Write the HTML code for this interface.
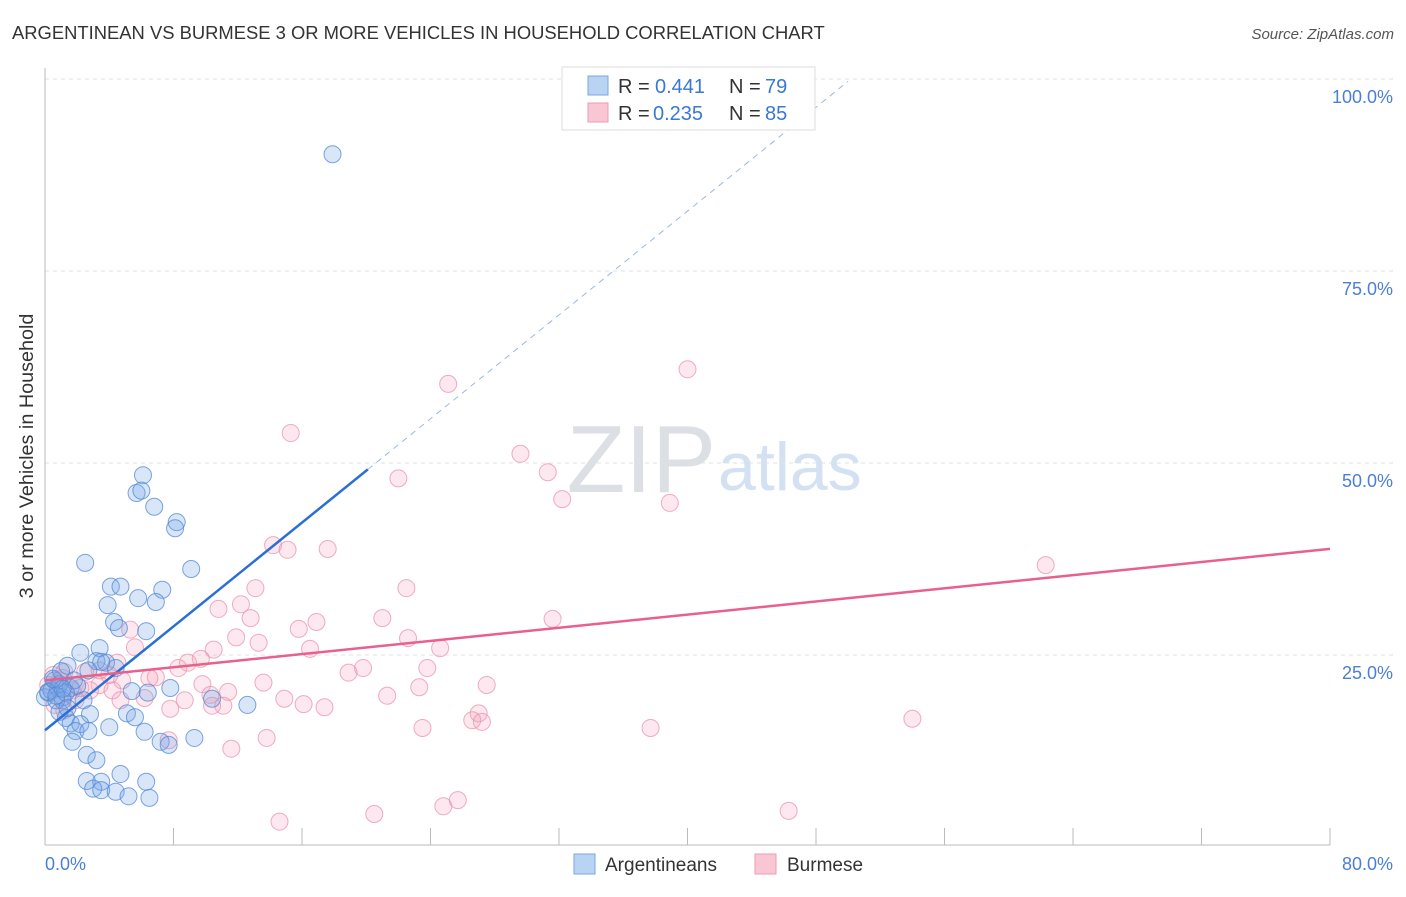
<!DOCTYPE html>
<html><head><meta charset="utf-8"><style>
body{margin:0;background:#fff;font-family:"Liberation Sans",sans-serif;}
svg text{font-family:"Liberation Sans",sans-serif;}
</style></head><body>
<svg id="chart" width="1406" height="892" xmlns="http://www.w3.org/2000/svg">
<text x="12" y="39" font-size="18.4" fill="#333">ARGENTINEAN VS BURMESE 3 OR MORE VEHICLES IN HOUSEHOLD CORRELATION CHART</text>
<text x="1394" y="39" font-size="15" fill="#555" text-anchor="end" font-style="italic">Source: ZipAtlas.com</text>
<text x="716" y="492" font-size="96" fill="#dcdfe4" text-anchor="end" font-family="Liberation Serif">ZIP</text>
<text x="718" y="490" font-size="68" fill="#d3e1f3">atlas</text>
<g id="grid"></g>
<line x1="45" y1="68" x2="45" y2="845" stroke="#bbb"/>
<line x1="45" y1="845" x2="1330" y2="845" stroke="#bbb"/>
<text x="33" y="456" font-size="19.8" fill="#333" text-anchor="middle" transform="rotate(-90 33 456)">3 or more Vehicles in Household</text>
<text x="45" y="870" font-size="18" fill="#4a7fd4">0.0%</text>
<text x="1393" y="870" font-size="18" fill="#4a7fd4" text-anchor="end">80.0%</text>
<g id="marks"></g>
<g id="trends"></g>
<g>
<rect x="562" y="67" width="253" height="63" fill="#fff" stroke="#ddd"/>
<rect x="588" y="76" width="20" height="19" fill="#b9d3f3" stroke="#7aa6e0"/>
<rect x="588" y="103" width="20" height="19" fill="#f9c6d4" stroke="#ee9ab3"/>
<text x="618" y="93" font-size="20" fill="#333">R =</text>
<text x="655" y="93" font-size="20" fill="#3a78d4">0.441</text>
<text x="729" y="93" font-size="20" fill="#333">N =</text>
<text x="765" y="93" font-size="20" fill="#3a78d4">79</text>
<text x="618" y="120" font-size="20" fill="#333">R =</text>
<text x="653" y="120" font-size="20" fill="#3a78d4">0.235</text>
<text x="729" y="120" font-size="20" fill="#333">N =</text>
<text x="765" y="120" font-size="20" fill="#3a78d4">85</text>
</g>
<g>
<rect x="574" y="854" width="21" height="20" fill="#b9d3f3" stroke="#7aa6e0"/>
<text x="605" y="871" font-size="19" fill="#333">Argentineans</text>
<rect x="755" y="854" width="21" height="20" fill="#f9c6d4" stroke="#ee9ab3"/>
<text x="787" y="871" font-size="19" fill="#333">Burmese</text>
</g>
</svg>
<script>
const yTicks=[25,50,75,100];
const yTickLabels=["25.0%","50.0%","75.0%","100.0%"];
const xTicks=[0,8,16,24,32,40,48,56,64,72,80];
const blueX=[17.9,6.1,5.7,6.0,6.8,8.2,8.1,2.5,9.1,7.3,4.1,4.7,5.8,6.9,3.9,4.3,4.6,6.3,3.4,2.2,1.4,3.2,3.8,4.4,3.5,5.4,6.4,7.8,10.4,12.6,0.6,0.8,0.2,0.0,1.1,0.4,0.9,1.6,2.0,2.7,1.8,5.1,5.6,2.8,4.0,1.3,1.6,2.2,1.9,2.7,6.2,9.3,7.2,7.7,1.7,2.6,3.2,4.7,2.6,3.5,3.0,3.5,4.4,5.2,6.3,6.5,0.9,1.1,0.7,0.2,1.3,2.4,1.4,0.7,1.1,0.5,1.0];
const blueY=[90.2,48.4,46.1,46.4,44.3,42.3,41.5,37.0,36.2,33.5,33.9,33.9,32.4,31.9,31.5,29.3,28.5,28.1,25.9,25.3,23.6,24.2,24.0,23.3,24.1,20.3,20.1,20.7,19.3,18.5,21.7,20.7,20.1,19.5,19.5,20.4,21.2,20.7,21.0,23.0,21.7,17.4,16.9,17.3,15.6,16.8,16.1,16.0,15.1,15.1,15.0,14.2,13.7,13.3,13.7,12.0,11.3,9.5,8.6,8.5,7.6,7.4,7.2,6.6,8.5,6.4,17.6,19.1,19.1,20.2,20.1,19.1,18.1,19.7,20.6,21.9,22.9];
const pinkX=[40.0,25.1,15.3,29.6,31.3,22.0,32.2,38.9,62.3,14.2,15.1,17.6,13.1,22.5,12.2,10.8,12.8,21.0,31.6,16.9,15.8,5.3,11.9,13.3,22.6,24.6,5.6,10.5,16.5,9.7,8.9,8.3,19.8,18.9,23.8,6.9,6.5,13.6,9.8,27.5,3.4,4.8,10.3,11.4,14.9,16.1,17.4,21.3,23.3,8.7,6.2,7.8,11.1,10.4,27.0,26.6,27.2,23.5,54.0,37.7,11.6,13.8,7.7,24.8,25.7,20.5,14.6,46.3,0.5,0.9,1.7,0.2,1.2,2.5,2.8,4.2,4.5,4.0,1.9,0.6,1.2,2.2,3.4,1.1,4.7];
const pinkY=[62.2,60.3,53.9,51.2,48.8,48.0,45.3,44.8,36.7,39.3,38.7,38.8,33.7,33.7,31.6,31.0,29.8,29.8,29.7,29.3,28.4,28.3,27.3,26.6,27.2,25.9,26.0,25.7,25.8,24.5,24.0,23.3,23.3,22.7,23.3,22.1,22.0,21.4,21.2,21.1,21.1,21.7,19.8,20.2,19.3,18.6,18.2,19.7,20.8,19.1,19.4,18.0,18.4,18.4,17.4,16.5,16.3,15.5,16.7,15.5,12.8,14.2,13.9,5.3,6.1,4.3,3.3,4.7,22.4,21.7,20.4,21.1,22.8,22.8,20.4,20.4,24.0,22.4,19.1,18.5,17.8,20.7,23.0,22.0,19.1];
const blueTrend=[15.2,1.69];
const pinkTrend=[21.7,0.214];
const NS="http://www.w3.org/2000/svg";
const sx=v=>45+v/80*1285;
const sy=v=>847-v/100*768;
function mk(tag,at){const e=document.createElementNS(NS,tag);for(const k in at)e.setAttribute(k,at[k]);return e;}
const grid=document.getElementById('grid');
yTicks.forEach((t,i)=>{
 const l=mk('line',{x1:45,x2:1394,y1:sy(t),y2:sy(t),stroke:'#e2e2e2','stroke-dasharray':'4,4'});
 
 
 grid.appendChild(l);
 const tx=mk('text',{x:1393,y:sy(t)+24,'font-size':18,fill:'#4a7fd4','text-anchor':'end'});
 tx.textContent=yTickLabels[i];
 
 
 grid.appendChild(tx);
});
xTicks.forEach(t=>{
 const l=mk('line',{x1:sx(t),x2:sx(t),y1:828,y2:845,stroke:'#bbb'});
 
 
 grid.appendChild(l);
});
const marks=document.getElementById('marks');
pinkX.forEach((x,i)=>{
 const c=mk('circle',{cx:sx(x),cy:sy(pinkY[i]),r:8.5,fill:'rgba(244,165,188,0.25)',stroke:'rgba(232,140,168,0.7)','stroke-width':1});
 
 
 marks.appendChild(c);
});
blueX.forEach((x,i)=>{
 const c=mk('circle',{cx:sx(x),cy:sy(blueY[i]),r:8.5,fill:'rgba(120,165,230,0.28)',stroke:'rgba(80,135,215,0.75)','stroke-width':1});
 
 
 marks.appendChild(c);
});
const tr=document.getElementById('trends');
const bx1=20.1,bx2=50;
let l=mk('line',{x1:sx(0),y1:sy(blueTrend[0]),x2:sx(bx1),y2:sy(blueTrend[0]+blueTrend[1]*bx1),stroke:'#2a6fd6','stroke-width':2.5});


tr.appendChild(l);
l=mk('line',{x1:sx(bx1),y1:sy(blueTrend[0]+blueTrend[1]*bx1),x2:sx(bx2),y2:sy(blueTrend[0]+blueTrend[1]*bx2),stroke:'#9ab8e4','stroke-width':1,'stroke-dasharray':'6,5'});


tr.appendChild(l);
l=mk('line',{x1:sx(0),y1:sy(pinkTrend[0]),x2:sx(80),y2:sy(pinkTrend[0]+pinkTrend[1]*80),stroke:'#e8608c','stroke-width':2.5});


tr.appendChild(l);
</script>
</body></html>
